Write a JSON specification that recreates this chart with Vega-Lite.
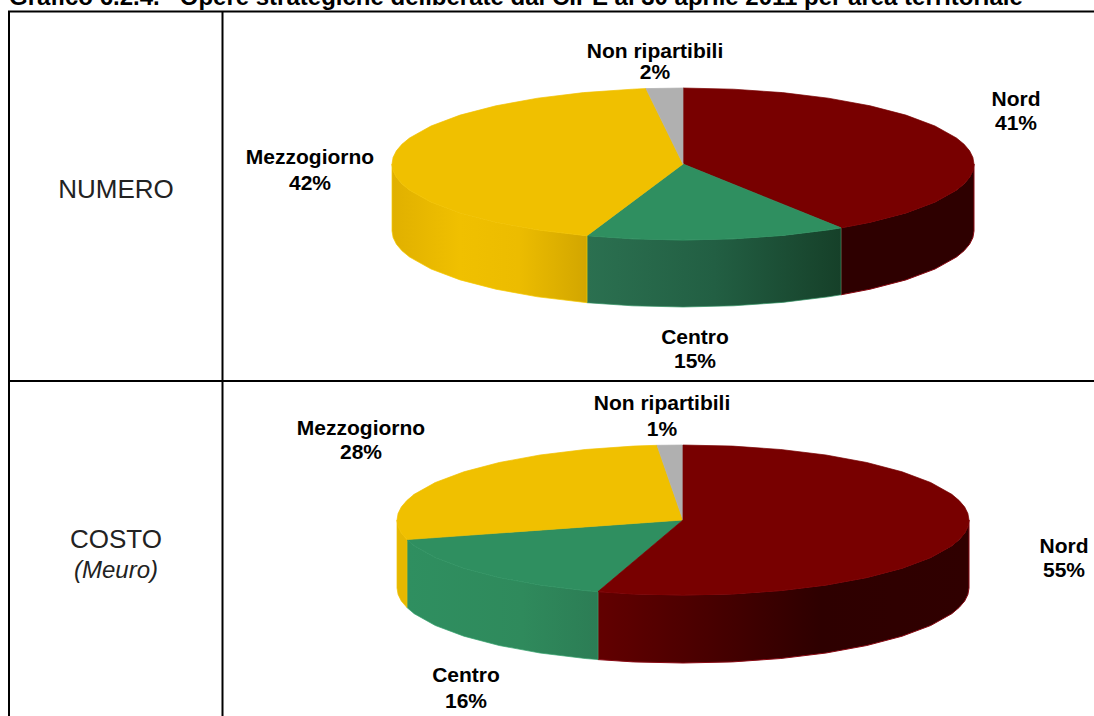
{"$schema":"https://vega.github.io/schema/vega-lite/v6.json","width":1094,"height":716,"autosize":{"type":"none"},"padding":0,"background":"#ffffff","view":{"stroke":null},"config":{"font":"Liberation Sans"},
"datasets":{
"nTopNord":[{"x":683,"y":164},{"x":683,"y":88},{"x":733.5,"y":89.2},{"x":782.5,"y":92.6},{"x":828.5,"y":98.2},{"x":870.1,"y":105.8},{"x":905.9,"y":115.1},{"x":935,"y":126},{"x":956.5,"y":138},{"x":964.1,"y":144.3},{"x":969.6,"y":150.8},{"x":972.9,"y":157.4},{"x":974,"y":164},{"x":972.9,"y":170.6},{"x":969.6,"y":177.2},{"x":964.1,"y":183.7},{"x":956.5,"y":190},{"x":935,"y":202},{"x":905.9,"y":212.9},{"x":870.1,"y":222.2},{"x":841,"y":227.8},{"x":683,"y":164}],
"nTopCentro":[{"x":683,"y":164},{"x":841,"y":227.8},{"x":828.5,"y":229.8},{"x":782.5,"y":235.4},{"x":733.5,"y":238.8},{"x":683,"y":240},{"x":632.5,"y":238.8},{"x":587,"y":235.7},{"x":683,"y":164}],
"nTopMezz":[{"x":683,"y":164},{"x":587,"y":235.7},{"x":537.5,"y":229.8},{"x":495.9,"y":222.2},{"x":460.1,"y":212.9},{"x":431,"y":202},{"x":409.5,"y":190},{"x":401.9,"y":183.7},{"x":396.4,"y":177.2},{"x":393.1,"y":170.6},{"x":392,"y":164},{"x":393.1,"y":157.4},{"x":396.4,"y":150.8},{"x":401.9,"y":144.3},{"x":409.5,"y":138},{"x":431,"y":126},{"x":460.1,"y":115.1},{"x":495.9,"y":105.8},{"x":537.5,"y":98.2},{"x":583.5,"y":92.6},{"x":632.5,"y":89.2},{"x":646,"y":88.6},{"x":683,"y":164}],
"nTopNon":[{"x":683,"y":164},{"x":646,"y":88.6},{"x":683,"y":88},{"x":683,"y":164}],
"nWallNord":[{"x":974,"y":164},{"x":972.9,"y":170.6},{"x":969.6,"y":177.2},{"x":964.1,"y":183.7},{"x":956.5,"y":190},{"x":935,"y":202},{"x":905.9,"y":212.9},{"x":870.1,"y":222.2},{"x":841,"y":227.8},{"x":841,"y":294.8},{"x":870.1,"y":289.2},{"x":905.9,"y":279.9},{"x":935,"y":269},{"x":956.5,"y":257},{"x":964.1,"y":250.7},{"x":969.6,"y":244.2},{"x":972.9,"y":237.6},{"x":974,"y":231},{"x":974,"y":164}],
"nWallCentro":[{"x":841,"y":227.8},{"x":828.5,"y":229.8},{"x":782.5,"y":235.4},{"x":733.5,"y":238.8},{"x":683,"y":240},{"x":632.5,"y":238.8},{"x":587,"y":235.7},{"x":587,"y":302.7},{"x":632.5,"y":305.8},{"x":683,"y":307},{"x":733.5,"y":305.8},{"x":782.5,"y":302.4},{"x":828.5,"y":296.8},{"x":841,"y":294.8},{"x":841,"y":227.8}],
"nWallMezz":[{"x":587,"y":235.7},{"x":537.5,"y":229.8},{"x":495.9,"y":222.2},{"x":460.1,"y":212.9},{"x":431,"y":202},{"x":409.5,"y":190},{"x":401.9,"y":183.7},{"x":396.4,"y":177.2},{"x":393.1,"y":170.6},{"x":392,"y":164},{"x":392,"y":231},{"x":393.1,"y":237.6},{"x":396.4,"y":244.2},{"x":401.9,"y":250.7},{"x":409.5,"y":257},{"x":431,"y":269},{"x":460.1,"y":279.9},{"x":495.9,"y":289.2},{"x":537.5,"y":296.8},{"x":587,"y":302.7},{"x":587,"y":235.7}],
"cTopNord":[{"x":683,"y":520},{"x":683,"y":445},{"x":732.6,"y":446.1},{"x":780.8,"y":449.5},{"x":826,"y":455},{"x":866.8,"y":462.5},{"x":902.1,"y":471.8},{"x":930.7,"y":482.5},{"x":951.8,"y":494.3},{"x":959.2,"y":500.6},{"x":964.7,"y":507},{"x":967.9,"y":513.5},{"x":969,"y":520},{"x":967.9,"y":526.5},{"x":964.7,"y":533},{"x":959.2,"y":539.4},{"x":951.8,"y":545.7},{"x":930.7,"y":557.5},{"x":902.1,"y":568.2},{"x":866.8,"y":577.5},{"x":826,"y":585},{"x":780.8,"y":590.5},{"x":732.6,"y":593.9},{"x":683,"y":595},{"x":633.4,"y":593.9},{"x":598,"y":591.6},{"x":683,"y":520}],
"cTopCentro":[{"x":683,"y":520},{"x":598,"y":591.6},{"x":585.2,"y":590.5},{"x":540,"y":585},{"x":499.2,"y":577.5},{"x":463.9,"y":568.2},{"x":435.3,"y":557.5},{"x":414.2,"y":545.7},{"x":407,"y":539.6},{"x":683,"y":520}],
"cTopMezz":[{"x":683,"y":520},{"x":407,"y":539.6},{"x":401.3,"y":533},{"x":398.1,"y":526.5},{"x":397,"y":520},{"x":398.1,"y":513.5},{"x":401.3,"y":507},{"x":406.8,"y":500.6},{"x":414.2,"y":494.3},{"x":435.3,"y":482.5},{"x":463.9,"y":471.8},{"x":499.2,"y":462.5},{"x":540,"y":455},{"x":585.2,"y":449.5},{"x":633.4,"y":446.1},{"x":657,"y":445.3},{"x":683,"y":520}],
"cTopNon":[{"x":683,"y":520},{"x":657,"y":445.3},{"x":683,"y":445},{"x":683,"y":520}],
"cWallNord":[{"x":969,"y":520},{"x":967.9,"y":526.5},{"x":964.7,"y":533},{"x":959.2,"y":539.4},{"x":951.8,"y":545.7},{"x":930.7,"y":557.5},{"x":902.1,"y":568.2},{"x":866.8,"y":577.5},{"x":826,"y":585},{"x":780.8,"y":590.5},{"x":732.6,"y":593.9},{"x":683,"y":595},{"x":633.4,"y":593.9},{"x":598,"y":591.6},{"x":598,"y":659.6},{"x":633.4,"y":661.9},{"x":683,"y":663},{"x":732.6,"y":661.9},{"x":780.8,"y":658.5},{"x":826,"y":653},{"x":866.8,"y":645.5},{"x":902.1,"y":636.2},{"x":930.7,"y":625.5},{"x":951.8,"y":613.7},{"x":959.2,"y":607.4},{"x":964.7,"y":601},{"x":967.9,"y":594.5},{"x":969,"y":588},{"x":969,"y":520}],
"cWallCentro":[{"x":598,"y":591.6},{"x":585.2,"y":590.5},{"x":540,"y":585},{"x":499.2,"y":577.5},{"x":463.9,"y":568.2},{"x":435.3,"y":557.5},{"x":414.2,"y":545.7},{"x":407,"y":539.6},{"x":407,"y":607.6},{"x":414.2,"y":613.7},{"x":435.3,"y":625.5},{"x":463.9,"y":636.2},{"x":499.2,"y":645.5},{"x":540,"y":653},{"x":585.2,"y":658.5},{"x":598,"y":659.6},{"x":598,"y":591.6}],
"cWallMezz":[{"x":407,"y":539.6},{"x":401.3,"y":533},{"x":398.1,"y":526.5},{"x":397,"y":520},{"x":397,"y":588},{"x":398.1,"y":594.5},{"x":401.3,"y":601},{"x":407,"y":607.6},{"x":407,"y":539.6}],
"grid":[{"x":8,"x2":1094,"y":11.5,"y2":11.5},{"x":8,"x2":1094,"y":381,"y2":381},{"x":9,"x2":9,"y":11,"y2":716},{"x":222.5,"x2":222.5,"y":11,"y2":716}],
"labels":[{"label":"Non ripartibili","x":655,"y":58},{"label":"2%","x":655,"y":79},{"label":"Nord","x":1016,"y":106},{"label":"41%","x":1016,"y":130},{"label":"Mezzogiorno","x":310,"y":164},{"label":"42%","x":310,"y":190},{"label":"Centro","x":695,"y":344},{"label":"15%","x":695,"y":368},{"label":"Non ripartibili","x":662,"y":410},{"label":"1%","x":662,"y":436},{"label":"Mezzogiorno","x":361,"y":435},{"label":"28%","x":361,"y":459},{"label":"Nord","x":1064,"y":553},{"label":"55%","x":1064,"y":577},{"label":"Centro","x":466,"y":682},{"label":"16%","x":466,"y":708}],
"rows":[{"label":"NUMERO","x":116,"y":198},{"label":"COSTO","x":116,"y":548}],
"notes":[{"label":"(Meuro)","x":116,"y":578}],
"titles":[{"label":"Grafico 6.2.4.\u00a0\u00a0\u00a0Opere strategiche deliberate dal CIPE al 30 aprile 2011 per area territoriale","x":9,"y":5}]
},
"encoding":{"x":{"field":"x","type":"quantitative","axis":null,"scale":{"domain":[0,1094],"nice":false,"zero":false}},"y":{"field":"y","type":"quantitative","axis":null,"scale":{"domain":[0,716],"nice":false,"zero":false,"reverse":true}}},
"layer":[
{"data":{"name":"nWallNord"},"mark":{"type":"line","fill":"#2e0000","stroke":"#8a0a14","strokeWidth":1},"encoding":{"order":{"value":null}}},
{"data":{"name":"nWallCentro"},"mark":{"type":"line","fill":{"gradient":"linear","x1":0,"y1":0,"x2":1,"y2":0,"stops":[{"offset":0,"color":"#2b7050"},{"offset":0.5,"color":"#225f43"},{"offset":1,"color":"#164029"}]},"stroke":"#2f8f60","strokeWidth":0.7},"encoding":{"order":{"value":null}}},
{"data":{"name":"nWallMezz"},"mark":{"type":"line","fill":{"gradient":"linear","x1":0,"y1":0,"x2":1,"y2":0,"stops":[{"offset":0,"color":"#e0b000"},{"offset":0.35,"color":"#f0c000"},{"offset":0.65,"color":"#ecbc00"},{"offset":1,"color":"#d2a600"}]},"stroke":"#f5c800","strokeWidth":0.7},"encoding":{"order":{"value":null}}},
{"data":{"name":"cWallNord"},"mark":{"type":"line","fill":{"gradient":"linear","x1":0,"y1":0,"x2":1,"y2":0,"stops":[{"offset":0,"color":"#620000"},{"offset":0.35,"color":"#440000"},{"offset":0.6,"color":"#2e0000"},{"offset":1,"color":"#300000"}]},"stroke":"#8a0a14","strokeWidth":1},"encoding":{"order":{"value":null}}},
{"data":{"name":"cWallCentro"},"mark":{"type":"line","fill":{"gradient":"linear","x1":0,"y1":0,"x2":1,"y2":0,"stops":[{"offset":0,"color":"#2f8f60"},{"offset":0.6,"color":"#2f8a5c"},{"offset":1,"color":"#2c7d55"}]},"stroke":"#34a06c","strokeWidth":0.7},"encoding":{"order":{"value":null}}},
{"data":{"name":"cWallMezz"},"mark":{"type":"line","fill":"#e6b800","stroke":"#f0c000","strokeWidth":0.7},"encoding":{"order":{"value":null}}},
{"data":{"name":"nTopNord"},"mark":{"type":"line","fill":"#780000","stroke":"#780000","strokeWidth":0.7},"encoding":{"order":{"value":null}}},
{"data":{"name":"nTopCentro"},"mark":{"type":"line","fill":"#2f8f60","stroke":"#2f8f60","strokeWidth":0.7},"encoding":{"order":{"value":null}}},
{"data":{"name":"nTopMezz"},"mark":{"type":"line","fill":"#f0c000","stroke":"#f0c000","strokeWidth":0.7},"encoding":{"order":{"value":null}}},
{"data":{"name":"nTopNon"},"mark":{"type":"line","fill":"#b0b0b0","stroke":"#b0b0b0","strokeWidth":0.7},"encoding":{"order":{"value":null}}},
{"data":{"name":"cTopCentro"},"mark":{"type":"line","fill":"#2f8f60","stroke":"#2f8f60","strokeWidth":0.7},"encoding":{"order":{"value":null}}},
{"data":{"name":"cTopMezz"},"mark":{"type":"line","fill":"#f0c000","stroke":"#f0c000","strokeWidth":0.7},"encoding":{"order":{"value":null}}},
{"data":{"name":"cTopNon"},"mark":{"type":"line","fill":"#b0b0b0","stroke":"#b0b0b0","strokeWidth":0.7},"encoding":{"order":{"value":null}}},
{"data":{"name":"cTopNord"},"mark":{"type":"line","fill":"#780000","stroke":"#780000","strokeWidth":0.7},"encoding":{"order":{"value":null}}},
{"data":{"name":"grid"},"mark":{"type":"rule","color":"#000000","strokeWidth":2},"encoding":{"x2":{"field":"x2"},"y2":{"field":"y2"}}},
{"data":{"name":"labels"},"mark":{"type":"text","font":"Liberation Sans","fontWeight":"bold","fontSize":21,"align":"center","baseline":"alphabetic","color":"#000000"},"encoding":{"text":{"field":"label"}}},
{"data":{"name":"rows"},"mark":{"type":"text","font":"Liberation Sans","fontSize":26,"align":"center","baseline":"alphabetic","color":"#222222"},"encoding":{"text":{"field":"label"}}},
{"data":{"name":"notes"},"mark":{"type":"text","font":"Liberation Sans","fontStyle":"italic","fontSize":24,"align":"center","baseline":"alphabetic","color":"#222222"},"encoding":{"text":{"field":"label"}}},
{"data":{"name":"titles"},"mark":{"type":"text","font":"Liberation Sans","fontWeight":"bold","fontSize":24,"align":"left","baseline":"alphabetic","color":"#000000"},"encoding":{"text":{"field":"label"}}}
]}
